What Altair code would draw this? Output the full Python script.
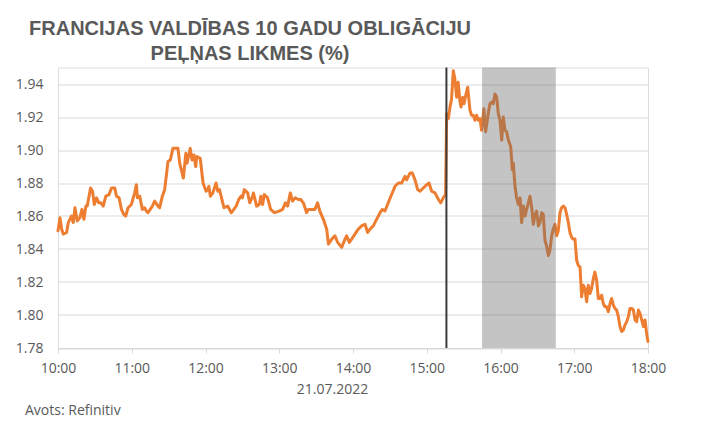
import altair as alt
import pandas as pd

# minutes after 10:00 on 21.07.2022
minutes = [
    0, 1.6, 3, 4.3, 7, 8.4, 11, 12.4, 13.8, 15.7,
    17.8, 19.5, 21.1, 22.7, 23.8, 26.5, 28.1, 29.5, 31.4, 33.2,
    34.9, 36.8, 38.9, 41.6, 43.5, 46.2, 47.6, 49.7, 51.6, 53.5,
    55.1, 57, 59.7, 62.4, 63.8, 64.6, 66.5, 68.6, 70.5, 71.9,
    73.2, 76.8, 78.6, 81.4, 82.7, 84.9, 86.8, 89.5, 91.4, 93.5,
    97.6, 99, 101, 102, 104, 105, 107.6, 109, 110.6, 112,
    113, 115.7, 118, 120.5, 122, 122.7, 124, 126, 128.6, 130,
    131.4, 132.7, 135, 138, 141, 142, 145, 147, 149, 150,
    151.6, 154.3, 156, 158.4, 159, 161.6, 163.8, 165, 166.5, 167.8,
    170.5, 173, 176, 180, 182.7, 185, 186.8, 189, 190.8, 193,
    195.5, 197.5, 199.6, 202.3, 203.6, 206.4, 209, 211.2, 213, 215.9,
    218.6, 220, 222.7, 225.3, 227.5, 230.8, 233.5, 234.8, 237, 238.9,
    241.6, 244.3, 247, 249.8, 251.9, 253.8, 256.5, 259.2, 262, 263.9,
    266, 268.7, 271.4, 274.2, 276.9, 279.6, 282.3, 283.7, 286.4, 288.3,
    290.4, 292.6, 294.5, 297.2, 300, 301.8, 304, 306.7, 309.5, 311.4,
    313.4, 315.3, 316.2, 317.6, 318.9, 320.2, 321.6, 322.9, 324.3, 325.6,
    326.9, 327.9, 329.2, 330.3, 332, 333.3, 335.2, 336.5, 337.9, 339.2,
    340.6, 341.9, 343.3, 344.6, 346.5, 347.9, 350, 351.4, 352.8, 354.1,
    355.5, 356.9, 358.2, 359.6, 361, 362.3, 363.6, 365, 366.4, 368.3,
    369.6, 370.4, 371.8, 373.1, 374.5, 375.9, 377.2, 378.6, 379.9, 381.3,
    382.7, 384, 385.4, 386.7, 388.1, 389.4, 390.8, 392.1, 393.5, 394.8,
    396.2, 397.5, 398.9, 400.2, 401.6, 402.9, 404.3, 405.7, 407, 408.4,
    409.7, 411.1, 412.5, 413.8, 415.2, 416.5, 417.9, 419.2, 420.6, 422,
    423.3, 424.7, 426, 427.4, 428.7, 430.1, 431.4, 432.8, 434.1, 435.5,
    436.8, 438.2, 439.6, 440.9, 442.3, 443.6, 445, 446.4, 447.7, 449.1,
    450.4, 451.8, 453.1, 454.5, 455.9, 457.2, 458.6, 460, 461.3, 462.7,
    464, 465.4, 466.8, 468.1, 469.5, 470.8, 472.2, 473.5, 474.9, 476.3,
    477.6, 479, 480,
]

yields = [
    1.851, 1.859, 1.852, 1.849, 1.850, 1.856, 1.860, 1.856, 1.865, 1.857,
    1.859, 1.864, 1.858, 1.866, 1.866, 1.877, 1.875, 1.867, 1.871, 1.868,
    1.868, 1.866, 1.872, 1.873, 1.877, 1.877, 1.872, 1.871, 1.864, 1.861,
    1.860, 1.865, 1.867, 1.874, 1.879, 1.871, 1.872, 1.864, 1.865, 1.863,
    1.862, 1.866, 1.869, 1.866, 1.865, 1.872, 1.876, 1.893, 1.894, 1.901,
    1.901, 1.892, 1.886, 1.883, 1.898, 1.892, 1.901, 1.894, 1.897, 1.890,
    1.896, 1.895, 1.880, 1.875, 1.876, 1.878, 1.872, 1.874, 1.880, 1.875,
    1.876, 1.872, 1.865, 1.866, 1.862, 1.863, 1.866, 1.870, 1.872, 1.871,
    1.876, 1.874, 1.868, 1.872, 1.874, 1.866, 1.867, 1.872, 1.867, 1.873,
    1.871, 1.864, 1.862, 1.863, 1.864, 1.868, 1.866, 1.874, 1.869, 1.871,
    1.870, 1.870, 1.868, 1.862, 1.864, 1.864, 1.864, 1.868, 1.863, 1.858,
    1.852, 1.843, 1.846, 1.848, 1.844, 1.841, 1.846, 1.848, 1.844, 1.846,
    1.849, 1.852, 1.854, 1.855, 1.850, 1.852, 1.854, 1.858, 1.862, 1.864,
    1.863, 1.868, 1.873, 1.878, 1.880, 1.880, 1.884, 1.882, 1.886, 1.886,
    1.882, 1.876, 1.875, 1.877, 1.879, 1.880, 1.875, 1.874, 1.870, 1.868,
    1.871, 1.873, 1.922, 1.919, 1.926, 1.931, 1.948, 1.943, 1.932, 1.941,
    1.930, 1.926, 1.932, 1.928, 1.934, 1.938, 1.924, 1.921, 1.921, 1.918,
    1.921, 1.918, 1.919, 1.912, 1.925, 1.911, 1.922, 1.928, 1.929, 1.928,
    1.934, 1.932, 1.922, 1.918, 1.906, 1.920, 1.912, 1.911, 1.906, 1.902,
    1.888, 1.892, 1.878, 1.871, 1.867, 1.871, 1.856, 1.866, 1.860, 1.864,
    1.868, 1.872, 1.865, 1.855, 1.861, 1.863, 1.854, 1.856, 1.862, 1.861,
    1.845, 1.842, 1.836, 1.839, 1.848, 1.852, 1.855, 1.848, 1.851, 1.862,
    1.865, 1.866, 1.865, 1.861, 1.856, 1.850, 1.847, 1.846, 1.846, 1.833,
    1.830, 1.829, 1.811, 1.818, 1.816, 1.808, 1.818, 1.813, 1.816, 1.822,
    1.826, 1.821, 1.810, 1.810, 1.812, 1.807, 1.805, 1.805, 1.802, 1.807,
    1.810, 1.806, 1.804, 1.803, 1.799, 1.793, 1.790, 1.791, 1.794, 1.796,
    1.799, 1.804, 1.804, 1.803, 1.797, 1.796, 1.803, 1.801, 1.797, 1.793,
    1.797, 1.788, 1.784,
]

hour_ticks = [0, 60, 120, 180, 240, 300, 360, 420, 480]
hour_labels = ["10:00", "11:00", "12:00", "13:00", "14:00", "15:00", "16:00", "17:00", "18:00"]
y_ticks = [1.78, 1.80, 1.82, 1.84, 1.86, 1.88, 1.90, 1.92, 1.94]
y_domain = [1.78, 1.95]
event_minute = [316]
band_start = [345]
band_end = [405]
title_lines = ["FRANCIJAS VALDĪBAS 10 GADU OBLIGĀCIJU", "PEĻŅAS LIKMES (%)"]
x_title = "21.07.2022"
source_note = ["Avots: Refinitiv"]

TEXT = "#595959"
LABEL_FONT = "Open Sans"

series = pd.DataFrame({"minute": minutes, "value": yields})
events = pd.DataFrame({"minute": event_minute})
bands = pd.DataFrame({"start": band_start, "end": band_end})
notes = pd.DataFrame({"note": source_note})

label_expr = "[" + ",".join("'%s'" % s for s in hour_labels) + "][round(datum.value/60)]"

x_scale = alt.Scale(domain=[0, 480], nice=False, zero=False)

line = alt.Chart(series).mark_line(
    color="#ED7D31", strokeWidth=3, strokeJoin="round", strokeCap="round"
).encode(
    x=alt.X(
        "minute:Q",
        scale=x_scale,
        axis=alt.Axis(
            values=hour_ticks,
            labelExpr=label_expr,
            grid=False,
            domainColor="#D9D9D9",
            tickColor="#D9D9D9",
            tickSize=5,
            labelPadding=8,
            labelFlush=False,
            labelFont=LABEL_FONT,
            labelFontSize=14,
            labelColor=TEXT,
            title=x_title,
            titleFont=LABEL_FONT,
            titleFontSize=14,
            titleFontWeight="normal",
            titleColor=TEXT,
            titleX=274,
            titleY=45,
            titleBaseline="alphabetic",
            titleAlign="center",
        ),
    ),
    y=alt.Y(
        "value:Q",
        scale=alt.Scale(domain=y_domain, nice=False, zero=False),
        axis=alt.Axis(
            values=y_ticks,
            format=".2f",
            title=None,
            grid=True,
            gridColor="#D9D9D9",
            domain=False,
            ticks=False,
            tickSize=0,
            labelPadding=15,
            labelFlush=False,
            labelFont=LABEL_FONT,
            labelFontSize=14,
            labelColor=TEXT,
        ),
    ),
)

rule = alt.Chart(events).mark_rule(color="#3B3B3B", strokeWidth=2).encode(
    x=alt.X("minute:Q", scale=x_scale)
)

band = alt.Chart(bands).mark_rect(color="#6B6B6B", opacity=0.4).encode(
    x=alt.X("start:Q", scale=x_scale),
    x2="end:Q",
)

note = alt.Chart(notes).mark_text(
    align="left", baseline="alphabetic", font=LABEL_FONT, fontSize=14, color=TEXT
).encode(text="note:N", x=alt.value(-33), y=alt.value(347.5))

chart = alt.layer(line, rule, band, note).properties(
    width=590,
    height=280.5,
    autosize=alt.AutoSizeParams(type="none"),
    padding={"left": 50, "top": 59.5, "right": 53, "bottom": 73},
    title=alt.TitleParams(
        text=title_lines,
        anchor="start",
        align="center",
        dx=192,
        offset=-13,
        baseline="alphabetic",
        font="Liberation Sans",
        fontSize=20,
        fontWeight="bold",
        color=TEXT,
        lineHeight=25,
        frame="group",
    ),
).configure_view(stroke=None).configure(background="white")

chart.save("out.html", embed_options={"renderer": "svg", "actions": False})
